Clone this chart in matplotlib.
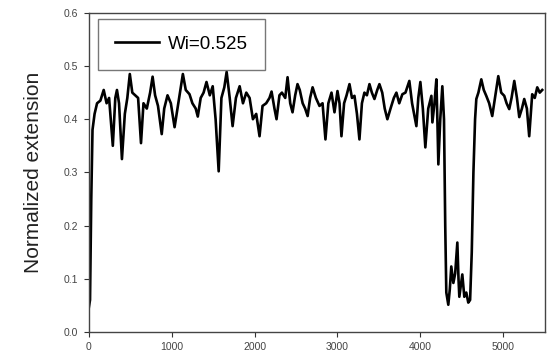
import numpy as np
import matplotlib
matplotlib.use("Agg")
import matplotlib.pyplot as plt

plt.rcParams['font.family'] = ['Liberation Sans', 'DejaVu Sans']

# time steps and normalized extension
t = [0, 15, 30, 45, 70, 100, 140, 180, 215, 245, 290, 320, 340, 365, 400, 435,
     465, 495, 525, 560, 595, 630, 660, 700, 740, 770, 800, 835, 880, 910, 950,
     990, 1035, 1070, 1100, 1135, 1170, 1215, 1250, 1290, 1315, 1350, 1385,
     1420, 1460, 1495, 1530, 1567, 1600, 1635, 1663, 1700, 1735, 1775, 1820,
     1860, 1900, 1940, 1980, 2020, 2060, 2096, 2140, 2180, 2205, 2240, 2265,
     2300, 2330, 2370, 2398, 2430, 2458, 2490, 2518, 2545, 2580, 2610, 2640,
     2670, 2700, 2740, 2783, 2820, 2855, 2890, 2928, 2964, 3000, 3025, 3048,
     3080, 3110, 3145, 3175, 3205, 3235, 3265, 3295, 3325, 3355, 3386, 3415,
     3446, 3480, 3506, 3540, 3570, 3602, 3640, 3680, 3711, 3745, 3783, 3820,
     3867, 3900, 3952, 3975, 4000, 4030, 4060, 4095, 4133, 4145, 4170, 4193,
     4205, 4217, 4240, 4265, 4285, 4300, 4313, 4337, 4355, 4373, 4398, 4420,
     4446, 4460, 4470, 4490, 4506, 4530, 4554, 4578, 4600, 4620, 4640, 4660,
     4675, 4700, 4735, 4765, 4795, 4830, 4867, 4900, 4940, 4975, 5012, 5040,
     5072, 5100, 5133, 5165, 5193, 5225, 5253, 5285, 5313, 5349, 5380, 5410,
     5440, 5470]
ext = [0.045, 0.06, 0.25, 0.38, 0.41, 0.43, 0.435, 0.455, 0.43, 0.44, 0.35,
       0.44, 0.455, 0.43, 0.325, 0.41, 0.44, 0.485, 0.45, 0.445, 0.44, 0.355,
       0.43, 0.42, 0.45, 0.48, 0.445, 0.425, 0.372, 0.42, 0.445, 0.43, 0.385,
       0.42, 0.45, 0.485, 0.455, 0.447, 0.43, 0.42, 0.405, 0.44, 0.45, 0.47,
       0.445, 0.462, 0.40, 0.302, 0.44, 0.46, 0.489, 0.44, 0.387, 0.44, 0.462,
       0.43, 0.45, 0.44, 0.40, 0.41, 0.368, 0.425, 0.43, 0.44, 0.452, 0.42,
       0.40, 0.445, 0.45, 0.44, 0.479, 0.43, 0.413, 0.445, 0.466, 0.455, 0.43,
       0.42, 0.406, 0.44, 0.46, 0.44, 0.425, 0.43, 0.362, 0.43, 0.45, 0.413,
       0.453, 0.43, 0.368, 0.43, 0.445, 0.466, 0.44, 0.444, 0.41, 0.362, 0.43,
       0.45, 0.445, 0.466, 0.45, 0.438, 0.455, 0.466, 0.45, 0.42, 0.40, 0.42,
       0.44, 0.45, 0.43, 0.447, 0.45, 0.472, 0.43, 0.387, 0.44, 0.47, 0.42,
       0.347, 0.42, 0.444, 0.394, 0.43, 0.475, 0.40, 0.315, 0.40, 0.462, 0.40,
       0.20, 0.074, 0.051, 0.08, 0.123, 0.092, 0.11, 0.168, 0.10, 0.066, 0.09,
       0.108, 0.066, 0.074, 0.055, 0.06, 0.15, 0.30, 0.40, 0.438, 0.45, 0.475,
       0.455, 0.444, 0.43, 0.406, 0.44, 0.481, 0.45, 0.444, 0.43, 0.419, 0.44,
       0.472, 0.44, 0.404, 0.42, 0.438, 0.42, 0.368, 0.447, 0.44, 0.46, 0.45,
       0.455]

xticks = [0, 1000, 2000, 3000, 4000, 5000]
yticks = [0.0, 0.1, 0.2, 0.3, 0.4, 0.5, 0.6]

fig = plt.figure(figsize=(5.48, 3.58), dpi=100)
ax = fig.add_axes([0.162, 0.073, 0.832, 0.891])

ax.plot(t, ext, color='black', lw=1.9, label='Wi=0.525')

ax.set_xlim(0, 5500)
ax.set_ylim(0, 0.6)
ax.set_xticks(xticks)
ax.set_yticks(yticks)
ax.set_yticklabels([f"{v:.1f}" for v in yticks])
ax.tick_params(direction='out', length=3.5, width=0.8, labelsize=7.5,
               colors='#333333', labelcolor='#444444', pad=4)
for s in ax.spines.values():
    s.set_color('#444444')
    s.set_linewidth(1.0)

ax.set_ylabel('Normalized extension', fontsize=15, color='#222222', labelpad=15)

leg = ax.legend(loc='upper left', fontsize=13.5, frameon=True, fancybox=False,
                handlelength=2.35, borderpad=0.9, handletextpad=0.5,
                bbox_to_anchor=(0.02, 0.982), borderaxespad=0)
leg.get_frame().set_edgecolor('#555555')
leg.get_frame().set_linewidth(1.0)

fig.savefig('out.png', dpi=100)
